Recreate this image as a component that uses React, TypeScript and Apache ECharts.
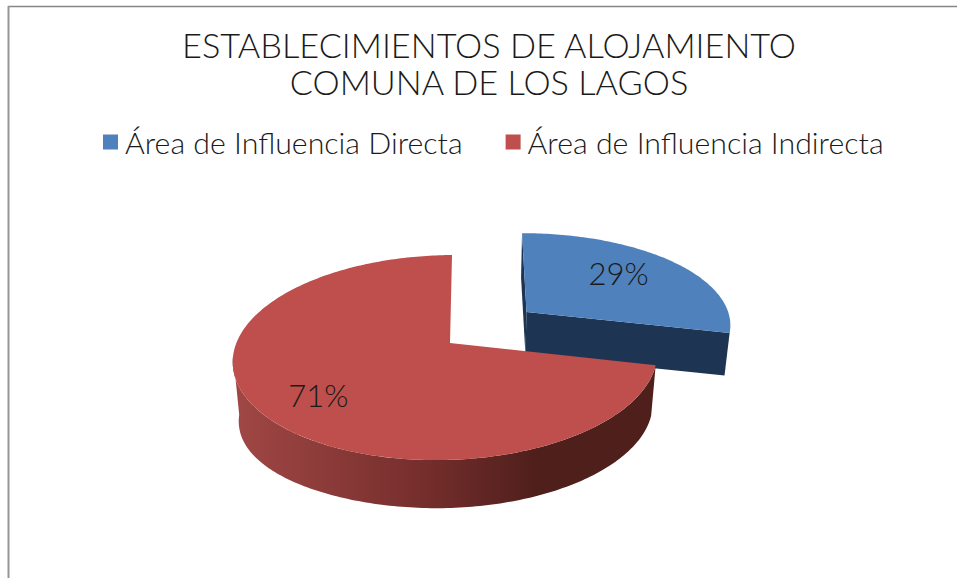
import React, { useEffect, useRef } from "react";
import * as echarts from "echarts";

const titleLines = ["ESTABLECIMIENTOS DE ALOJAMIENTO", "COMUNA DE LOS LAGOS"];
const categories = ["Área de Influencia Directa", "Área de Influencia Indirecta"];
const values = [29, 71];
const topColors = ["#4f81bd", "#be4f4c"];
const wallColors = ["#1d3553", "#4f1f1c"];

const FONT = "Lato";
const VANISH_X = 474;
const TILT = 0.1415;
const TWIST = 0.022;

const sliceViews = [
  { cx: 526.5, cy: 312, rx: 205.5, ry: 90, skewX: 5.1, skewY: -1.7, depth: 43, shrink: 0.98, labelAt: 0.63, labelDx: -2, labelDy: -6, wallTo: 104.4, droop: 0 },
  { cx: 450, cy: 343, rx: 210, ry: 100.4, skewX: -2.3, skewY: -3, depth: 51, shrink: 0.975, labelAt: 0.75, labelDx: 4.5, labelDy: 0, wallTo: 265, droop: 9 },
];

const total = values.reduce((a, b) => a + b, 0);
const sliceStart = (i: number) => (values.slice(0, i).reduce((a, b) => a + b, 0) / total) * 360;

function project(i: number, deg: number, radius: number, lower: boolean): number[] {
  const view = sliceViews[i];
  const a = (deg * Math.PI) / 180;
  const u = Math.sin(a) * radius;
  const v = -Math.cos(a) * radius;
  const w = 1 - TILT * v + TWIST * u;
  const x = view.cx + (view.rx * u + view.skewX * v) / w;
  const y = view.cy + (view.ry * v + view.skewY * u) / w;
  if (!lower) return [x, y];
  const droop = u < 0 ? -u * u * u * view.droop * -1 * -1 : 0;
  return [VANISH_X + (x - VANISH_X) * view.shrink, view.cy + view.depth + (y - view.cy) * view.shrink + droop];
}

function arc(i: number, from: number, to: number, lower: boolean): number[][] {
  const pts: number[][] = [];
  const steps = Math.max(2, Math.ceil(Math.abs(to - from)));
  for (let s = 0; s <= steps; s++) pts.push(project(i, from + ((to - from) * s) / steps, 1, lower));
  return pts;
}

function renderSlice(i: number) {
  return (_params: any, api: any) => {
    const start = sliceStart(i);
    const end = start + (api.value(0) / total) * 360;
    const view = sliceViews[i];
    const children: any[] = [];
    if (i === 0) {
      children.push({
        type: "polygon",
        shape: { points: [project(i, start, 0, false), project(i, start, 1, false), project(i, start, 1, true), project(i, start, 0, true)] },
        style: { fill: wallColors[i] },
      });
      children.push({
        type: "polygon",
        shape: { points: [project(i, end, 0, false), project(i, end, 1, false), project(i, end, 1, true), project(i, end, 0, true)] },
        style: { fill: wallColors[i] },
      });
    } else {
      const upper = arc(i, start, view.wallTo, false);
      const lower = arc(i, start, view.wallTo, true).reverse();
      children.push({
        type: "polygon",
        shape: { points: upper.concat(lower) },
        style: {
          fill: new echarts.graphic.LinearGradient(
            236, 0, 653, 0,
            [
              { offset: 0, color: "#a04745" },
              { offset: 0.45, color: "#752e2c" },
              { offset: 0.72, color: wallColors[i] },
              { offset: 1, color: wallColors[i] },
            ],
            true
          ),
        },
      });
    }
    children.push({
      type: "polygon",
      shape: { points: [project(i, start, 0, false)].concat(arc(i, start, end, false)) },
      style: { fill: topColors[i] },
    });
    const labelPos = project(i, (start + end) / 2, view.labelAt, false);
    children.push({
      type: "text",
      x: labelPos[0] + view.labelDx,
      y: labelPos[1] + view.labelDy,
      style: {
        text: `${api.value(0)}%`,
        fontFamily: FONT,
        fontWeight: 300,
        fontSize: 31,
        fill: "#1a1a1a",
        align: "center",
        verticalAlign: "middle",
      },
    });
    return { type: "group", children };
  };
}

export default function App() {
  const ref = useRef<HTMLDivElement>(null);
  useEffect(() => {
    const chart = echarts.init(ref.current!, undefined, { renderer: "svg" });
    chart.setOption({
      animation: false,
      backgroundColor: "#ffffff",
      title: {
        text: titleLines.join("\n"),
        left: 484,
        top: 21,
        textAlign: "center",
        textStyle: { fontFamily: FONT, fontWeight: 300, fontSize: 34.3, lineHeight: 37, color: "#1a1a1a" },
      },
      legend: {
        data: categories,
        left: 98,
        top: 122,
        itemWidth: 15,
        itemHeight: 15,
        itemGap: 43,
        icon: "rect",
        textStyle: { fontFamily: FONT, fontWeight: 300, fontSize: 30.3, color: "#1a1a1a", padding: [0, 0, 0, 2] },
      },
      graphic: [
        { type: "line", shape: { x1: 8, y1: 6.5, x2: 957, y2: 6.5 }, style: { stroke: "#868686", lineWidth: 1.5 } },
        { type: "line", shape: { x1: 8.5, y1: 6, x2: 8.5, y2: 578 }, style: { stroke: "#969696", lineWidth: 2 } },
      ],
      series: categories.map((name, i) => ({
        type: "custom",
        name,
        coordinateSystem: "none",
        silent: true,
        itemStyle: { color: topColors[i] },
        data: [[values[i]]],
        encode: { value: 0 },
        renderItem: renderSlice(i),
      })),
    });
    return () => chart.dispose();
  }, []);
  return <div ref={ref} style={{ position: "fixed", left: 0, top: 0, width: 957, height: 578 }} />;
}
